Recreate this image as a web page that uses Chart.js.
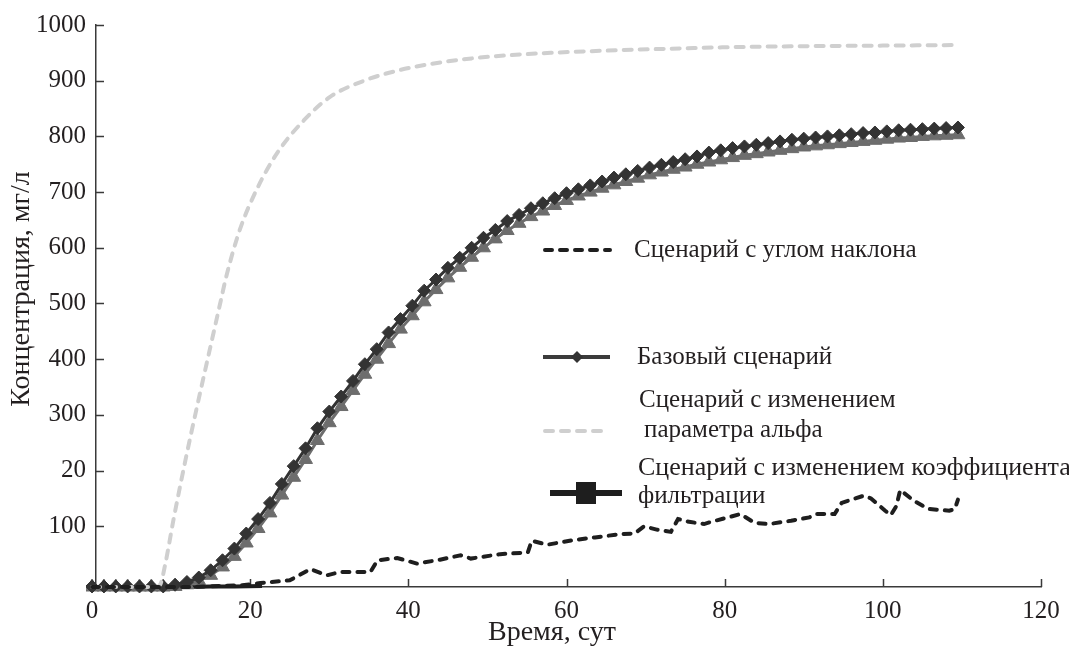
<!DOCTYPE html>
<html>
<head>
<meta charset="utf-8">
<script src="https://cdn.jsdelivr.net/npm/chart.js@4.4.1/dist/chart.umd.min.js"></script>
<style>
  html, body { margin: 0; padding: 0; background: #ffffff; }
  #wrap { position: relative; width: 1069px; height: 654px; }
</style>
</head>
<body>
<div id="wrap"><canvas id="c"></canvas></div>
<script>
// ---------- data ----------
const xDays = [0,1.5,3,4.5,6,7.5,9,10.5,12,13.5,15,16.5,18,19.5,21,22.5,24,25.5,27,28.5,30,31.5,33,34.5,36,37.5,39,40.5,42,43.5,45,46.5,48,49.5,51,52.5,54,55.5,57,58.5,60,61.5,63,64.5,66,67.5,69,70.5,72,73.5,75,76.5,78,79.5,81,82.5,84,85.5,87,88.5,90,91.5,93,94.5,96,97.5,99,100.5,102,103.5,105,106.5,108,109.5];
const baseY = [-8,-8,-8,-8,-8,-8,-8,-5,0,8,21,39,60,87,113,142,176,208,240,276,306,333,361,391,418,448,472,496,523,543,564,582,600,618,632,648,659,671,680,689,698,705,712,719,726,732,738,744,749,754,759,764,771,775,779,782,785,788,791,794,796,798,800,802,804,806,807,809,811,812,813,814,815,816];
const triY = [-9,-9,-9,-9,-9,-9,-9,-8,-5,2,12,27,46,70,96,124,156,188,220,254,286,315,344,373,400,428,454,478,503,525,546,565,583,600,616,631,644,656,666,676,685,693,700,707,713,719,725,731,736,741,745,750,754,758,762,766,769,772,775,778,781,783,785,787,789,791,793,795,797,798,800,801,802,803];
const alphaX = [0,8,8.6,9.3,10.3,11.8,13.2,14.9,16.2,17,18.7,20.8,23.4,26.8,30.1,34.4,38.6,42.8,48,53,58,65,72,80,90,100,109.5];
const alphaY = [-9,-9,-5,35,112,218,310,418,500,550,633,704,770,829,871,900,918,930,940,946,950,954,957,960,962,963,964];
const slopeX = [0,12,19,21.3,25,27.6,29.7,31.4,35.2,36.1,38.6,41.1,44,46.6,47.9,51.6,55.1,55.6,57.6,60.8,63.6,66.8,68.6,69.8,71.4,73.2,74.1,75.5,77.4,78.3,82,83.8,85.6,88.4,90.7,91.6,93.9,94.8,97.6,98.5,100.3,101,101.7,102.2,104,105.8,108.4,109.1,109.5];
const slopeY = [-9,-9,-6,-2,3,23,12,18,18,39,43,33,40,48,42,50,53,74,67,75,80,86,87,100,94,90,113,108,104,108,122,106,104,110,116,122,122,142,155,150,128,120,136,165,145,131,128,131,148];
const filtX = [0,4,8,12,15,18,21.5];
const filtY = [-9,-9,-9,-9,-8,-8,-7];

const xTicks = [0,20,40,60,80,100,120];
const yTicks = [100,200,300,400,500,600,700,800,900,1000];
const yTickLabels = ['100','20','300','400','500','600','700','800','900','1000'];

const seriesNames = ['Сценарий с углом наклона','Базовый сценарий','Сценарий с изменением параметра альфа','Сценарий с изменением коэффициента фильтрации',''];
const xTitle = 'Время, сут';
const yTitle = 'Концентрация, мг/л';

// ---------- helpers ----------
const pts = (xs, ys) => xs.map((x, i) => ({x: x, y: ys[i]}));
const FONT = "'Liberation Serif', 'Times New Roman', serif";
const TXT = '#231f20';

const insideTicks = {
  id: 'insideTicks',
  beforeDatasetsDraw(chart) {
    const {ctx, chartArea, scales} = chart;
    ctx.save();
    ctx.strokeStyle = '#3a3a3a';
    ctx.lineWidth = 1.5;
    ctx.beginPath();
    xTicks.forEach(v => {
      if (v === 0) return;
      const px = Math.round(scales.x.getPixelForValue(v)) + 0.5;
      ctx.moveTo(px, chartArea.bottom);
      ctx.lineTo(px, chartArea.bottom - 8);
    });
    yTicks.forEach(v => {
      const py = Math.round(scales.y.getPixelForValue(v)) + 0.5;
      ctx.moveTo(chartArea.left, py);
      ctx.lineTo(chartArea.left + 8, py);
    });
    ctx.stroke();
    ctx.restore();
  }
};

const titles = {
  id: 'titles',
  afterDraw(chart) {
    const ctx = chart.ctx;
    ctx.save();
    ctx.font = '28px ' + FONT;
    ctx.fillStyle = TXT;
    ctx.textAlign = 'center';
    ctx.textBaseline = 'middle';
    ctx.fillText(xTitle, 552, 633);
    ctx.translate(22, 289);
    ctx.rotate(-Math.PI / 2);
    ctx.fillText(yTitle, 0, 0);
    ctx.restore();
  }
};

const customLegend = {
  id: 'customLegend',
  afterDraw(chart) {
    const ctx = chart.ctx;
    ctx.save();
    ctx.font = '25px ' + FONT;
    ctx.fillStyle = TXT;
    ctx.textBaseline = 'middle';
    ctx.textAlign = 'left';
    ctx.lineCap = 'round';
    // 1: slope
    ctx.strokeStyle = '#1e1e1e'; ctx.lineWidth = 4; ctx.setLineDash([7, 8]);
    ctx.beginPath(); ctx.moveTo(545, 250); ctx.lineTo(610, 250); ctx.stroke();
    ctx.fillText('Сценарий с углом наклона', 634, 250);
    // 2: base
    ctx.setLineDash([]); ctx.lineCap = 'butt';
    ctx.strokeStyle = '#3b3b3b'; ctx.lineWidth = 4;
    ctx.beginPath(); ctx.moveTo(543, 357); ctx.lineTo(610, 357); ctx.stroke();
    ctx.fillStyle = '#333333';
    ctx.beginPath(); ctx.moveTo(577, 351); ctx.lineTo(583, 357); ctx.lineTo(577, 363); ctx.lineTo(571, 357); ctx.closePath(); ctx.fill();
    ctx.fillStyle = TXT;
    ctx.fillText('Базовый сценарий', 637, 357);
    // 3: alpha
    ctx.lineCap = 'round';
    ctx.strokeStyle = '#cfcfcf'; ctx.lineWidth = 4; ctx.setLineDash([8, 8]);
    ctx.beginPath(); ctx.moveTo(545, 431); ctx.lineTo(602, 431); ctx.stroke();
    ctx.setLineDash([]); ctx.lineCap = 'butt';
    ctx.fillText('Сценарий с изменением', 639, 400);
    ctx.fillText('параметра альфа', 644, 430);
    // 4: filtration
    ctx.strokeStyle = '#1e1e1e'; ctx.lineWidth = 6;
    ctx.beginPath(); ctx.moveTo(550, 493); ctx.lineTo(622, 493); ctx.stroke();
    ctx.fillStyle = '#1e1e1e';
    ctx.fillRect(576, 482, 20, 22);
    ctx.fillStyle = TXT;
    ctx.font = '26px ' + FONT;
    ctx.fillText('Сценарий с изменением коэффициента', 638, 468);
    ctx.font = '25px ' + FONT;
    ctx.fillText('фильтрации', 638, 496);
    ctx.restore();
  }
};

new Chart(document.getElementById('c'), {
  type: 'line',
  data: {
    datasets: [
      { label: seriesNames[0], data: pts(slopeX, slopeY), borderColor: '#1e1e1e', borderWidth: 4,
        borderDash: [7, 8], borderCapStyle: 'round', pointRadius: 0, tension: 0, fill: false, clip: 10 },
      { label: seriesNames[2], data: pts(alphaX, alphaY), borderColor: '#cfcfcf', borderWidth: 4,
        borderDash: [8, 8], borderCapStyle: 'round', pointRadius: 0, cubicInterpolationMode: 'monotone',
        fill: false, clip: 10 },
      { label: seriesNames[1], data: pts(xDays, baseY), borderColor: '#333333', borderWidth: 3,
        pointStyle: 'rectRot', pointRadius: 6.5, pointBackgroundColor: '#333333', pointBorderColor: '#333333',
        pointBorderWidth: 1, tension: 0, fill: false, clip: 10 },
      { label: seriesNames[4], data: pts(xDays, triY), borderColor: '#6d6d6d', borderWidth: 3,
        pointStyle: 'triangle', pointRadius: 8, pointBackgroundColor: '#6d6d6d', pointBorderColor: '#6d6d6d',
        pointBorderWidth: 1, tension: 0, fill: false, clip: 10 },
      { label: seriesNames[3], data: pts(filtX, filtY), borderColor: '#1e1e1e', borderWidth: 4,
        pointRadius: 0, pointStyle: 'rect', tension: 0, fill: false, clip: 10 }
    ]
  },
  options: {
    responsive: true,
    maintainAspectRatio: false,
    animation: false,
    events: [],
    layout: { padding: { top: 20, right: 28, left: 0, bottom: 0 } },
    plugins: { legend: { display: false }, tooltip: { enabled: false } },
    scales: {
      x: {
        type: 'linear', min: 0.5, max: 120,
        afterBuildTicks: s => { s.ticks = xTicks.map(v => ({ value: v })); },
        afterFit: s => { s.height = 67; },
        grid: { display: true, drawOnChartArea: false, drawTicks: false },
        border: { display: true, color: '#3a3a3a', width: 1.5 },
        ticks: { autoSkip: false, maxRotation: 0, padding: 9, color: TXT,
                 font: { family: FONT, size: 25 } },
        title: { display: false }
      },
      y: {
        type: 'linear', min: -9, max: 1000,
        afterBuildTicks: s => { s.ticks = yTicks.map(v => ({ value: v })); },
        afterFit: s => { s.width = 96; },
        grid: { display: true, drawOnChartArea: false, drawTicks: false },
        border: { display: true, color: '#3a3a3a', width: 1.5 },
        ticks: { autoSkip: false, padding: 10, color: TXT,
                 font: { family: FONT, size: 25 },
                 callback: v => yTickLabels[yTicks.indexOf(v)] },
        title: { display: false }
      }
    }
  },
  plugins: [insideTicks, titles, customLegend]
});
</script>
</body>
</html>
